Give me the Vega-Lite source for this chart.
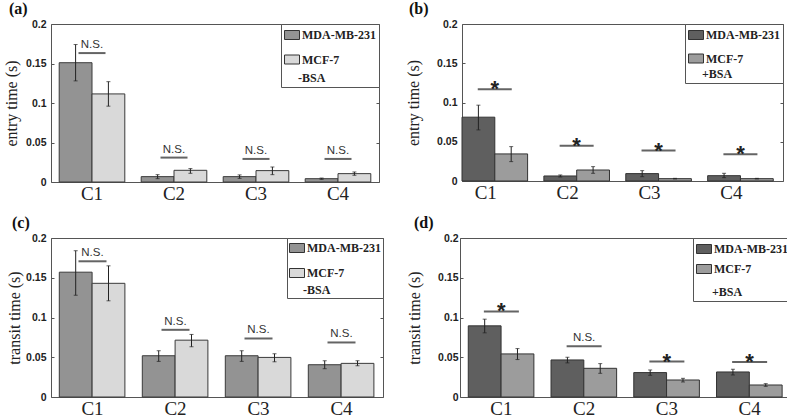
{
  "$schema": "https://vega.github.io/schema/vega-lite/v6.json",
  "padding": {"left": 2, "top": 0, "right": 0, "bottom": 0},
  "background": "white",
  "config": {
    "view": {"stroke": "#555", "strokeWidth": 1},
    "axis": {"grid": false, "domain": false},
    "axisY": {"labelFont": "Liberation Sans", "labelFontWeight": "bold", "labelFontSize": 10.5, "labelColor": "#222", "tickColor": "#555", "tickSize": -3, "labelPadding": 8, "titleFont": "Liberation Serif", "titleFontWeight": "normal", "titleFontSize": 16, "titleColor": "#222"},
    "axisX": {"labelFont": "Liberation Serif", "labelFontSize": 19, "labelColor": "#222", "ticks": false, "labelPadding": 2, "labelAngle": 0},
    "legend": {"orient": "top-right", "offset": 0, "strokeColor": "#555", "fillColor": "white", "padding": 3, "symbolType": "M-1,-0.6H1V0.6H-1Z", "symbolSize": 225, "symbolStrokeColor": "#333", "symbolStrokeWidth": 1, "symbolOpacity": 1, "labelFont": "Liberation Serif", "labelFontWeight": "bold", "labelFontSize": 12, "labelColor": "#222", "labelOffset": 2, "titleFont": "Liberation Serif", "titleFontWeight": "bold", "titleFontSize": 12, "titleColor": "#222", "titleOrient": "bottom", "titleAnchor": "start", "titlePadding": 7, "rowPadding": 9.5},
    "title": {"font": "Liberation Serif", "fontSize": 16, "fontWeight": "bold", "color": "#111", "anchor": "start", "frame": "bounds", "offset": 2}
  },
  "datasets": {
    "a": [
      {"cond": "C1", "cell": "MDA-MB-231", "mean": 0.151, "lo": 0.128, "hi": 0.174},
      {"cond": "C1", "cell": "MCF-7", "mean": 0.1115, "lo": 0.096, "hi": 0.127},
      {"cond": "C2", "cell": "MDA-MB-231", "mean": 0.0068, "lo": 0.0042, "hi": 0.0093},
      {"cond": "C2", "cell": "MCF-7", "mean": 0.0148, "lo": 0.011, "hi": 0.017},
      {"cond": "C3", "cell": "MDA-MB-231", "mean": 0.0068, "lo": 0.0046, "hi": 0.009},
      {"cond": "C3", "cell": "MCF-7", "mean": 0.0144, "lo": 0.0093, "hi": 0.019},
      {"cond": "C4", "cell": "MDA-MB-231", "mean": 0.0042, "lo": 0.0034, "hi": 0.005},
      {"cond": "C4", "cell": "MCF-7", "mean": 0.0106, "lo": 0.0085, "hi": 0.0127}
    ],
    "b": [
      {"cond": "C1", "cell": "MDA-MB-231", "mean": 0.0813, "lo": 0.0651, "hi": 0.0966},
      {"cond": "C1", "cell": "MCF-7", "mean": 0.0345, "lo": 0.0247, "hi": 0.0438},
      {"cond": "C2", "cell": "MDA-MB-231", "mean": 0.0064, "lo": 0.0051, "hi": 0.0077},
      {"cond": "C2", "cell": "MCF-7", "mean": 0.014, "lo": 0.0098, "hi": 0.0183},
      {"cond": "C3", "cell": "MDA-MB-231", "mean": 0.0094, "lo": 0.0055, "hi": 0.0132},
      {"cond": "C3", "cell": "MCF-7", "mean": 0.003, "lo": 0.0026, "hi": 0.0034},
      {"cond": "C4", "cell": "MDA-MB-231", "mean": 0.0068, "lo": 0.0043, "hi": 0.0098},
      {"cond": "C4", "cell": "MCF-7", "mean": 0.003, "lo": 0.0026, "hi": 0.0034}
    ],
    "c": [
      {"cond": "C1", "cell": "MDA-MB-231", "mean": 0.157, "lo": 0.128, "hi": 0.184},
      {"cond": "C1", "cell": "MCF-7", "mean": 0.143, "lo": 0.121, "hi": 0.165},
      {"cond": "C2", "cell": "MDA-MB-231", "mean": 0.0519, "lo": 0.0448, "hi": 0.0582},
      {"cond": "C2", "cell": "MCF-7", "mean": 0.0715, "lo": 0.0632, "hi": 0.0787},
      {"cond": "C3", "cell": "MDA-MB-231", "mean": 0.0519, "lo": 0.0448, "hi": 0.0582},
      {"cond": "C3", "cell": "MCF-7", "mean": 0.0498, "lo": 0.0443, "hi": 0.0544},
      {"cond": "C4", "cell": "MDA-MB-231", "mean": 0.0406, "lo": 0.0356, "hi": 0.0456},
      {"cond": "C4", "cell": "MCF-7", "mean": 0.0423, "lo": 0.0393, "hi": 0.0456}
    ],
    "d": [
      {"cond": "C1", "cell": "MDA-MB-231", "mean": 0.0895, "lo": 0.0807, "hi": 0.0979},
      {"cond": "C1", "cell": "MCF-7", "mean": 0.0542, "lo": 0.0471, "hi": 0.0609},
      {"cond": "C2", "cell": "MDA-MB-231", "mean": 0.0466, "lo": 0.0429, "hi": 0.05},
      {"cond": "C2", "cell": "MCF-7", "mean": 0.0361, "lo": 0.0298, "hi": 0.042},
      {"cond": "C3", "cell": "MDA-MB-231", "mean": 0.0307, "lo": 0.0273, "hi": 0.034},
      {"cond": "C3", "cell": "MCF-7", "mean": 0.0214, "lo": 0.0189, "hi": 0.0235},
      {"cond": "C4", "cell": "MDA-MB-231", "mean": 0.0315, "lo": 0.0277, "hi": 0.0349},
      {"cond": "C4", "cell": "MCF-7", "mean": 0.0151, "lo": 0.0134, "hi": 0.0168}
    ],
    "sa": [
      {"cond": "C1", "y": 0.1632, "label": "N.S."},
      {"cond": "C2", "y": 0.0309, "label": "N.S."},
      {"cond": "C3", "y": 0.0292, "label": "N.S."},
      {"cond": "C4", "y": 0.0292, "label": "N.S."}
    ],
    "sb": [
      {"cond": "C1", "y": 0.117, "label": "*"},
      {"cond": "C2", "y": 0.045, "label": "*"},
      {"cond": "C3", "y": 0.0387, "label": "*"},
      {"cond": "C4", "y": 0.034, "label": "*"}
    ],
    "sc": [
      {"cond": "C1", "y": 0.1707, "label": "N.S."},
      {"cond": "C2", "y": 0.0845, "label": "N.S."},
      {"cond": "C3", "y": 0.0736, "label": "N.S."},
      {"cond": "C4", "y": 0.0686, "label": "N.S."}
    ],
    "sd": [
      {"cond": "C1", "y": 0.1076, "label": "*"},
      {"cond": "C2", "y": 0.0639, "label": "N.S."},
      {"cond": "C3", "y": 0.0445, "label": "*"},
      {"cond": "C4", "y": 0.0441, "label": "*"}
    ]
  },
  "resolve": {"scale": {"color": "independent"}, "legend": {"color": "independent"}},
  "spacing": 10,
  "vconcat": [
    {
      "spacing": 24,
      "resolve": {"scale": {"color": "independent"}, "legend": {"color": "independent"}},
      "hconcat": [
        {
          "width": 328, "height": 158,
          "title": {"text": "(a)", "dx": 6},
          "data": {"name": "a"},
          "resolve": {"axis": {"y": "independent"}},
          "layer": [
            {"mark": {"type": "bar", "stroke": "#3a3a3a", "strokeWidth": 1},
             "encoding": {
               "x": {"field": "cond", "type": "nominal", "title": null, "scale": {"paddingInner": 0.2, "paddingOuter": 0.1}, "axis": {"labelAngle": 0}},
               "xOffset": {"field": "cell", "sort": ["MDA-MB-231", "MCF-7"]},
               "y": {"field": "mean", "type": "quantitative", "title": "entry time (s)", "scale": {"domain": [0, 0.2], "nice": false}, "axis": {"values": [0, 0.05, 0.1, 0.15, 0.2], "format": "~g", "minExtent": 25, "maxExtent": 25, "titlePadding": 7}},
               "color": {"field": "cell", "type": "nominal", "scale": {"domain": ["MDA-MB-231", "MCF-7"], "range": ["#939393", "#d9d9d9"]}, "legend": {"title": "-BSA", "encode": {"title": {"update": {"dx": {"value": 14}}}}}}
             }},
            {"mark": {"type": "rule", "color": "#222", "strokeWidth": 1},
             "encoding": {"x": {"field": "cond", "type": "nominal", "title": null}, "xOffset": {"field": "cell", "sort": ["MDA-MB-231", "MCF-7"]}, "y": {"field": "lo", "type": "quantitative", "axis": null}, "y2": {"field": "hi"}}},
            {"mark": {"type": "tick", "color": "#222", "size": 4, "thickness": 1},
             "encoding": {"x": {"field": "cond", "type": "nominal", "title": null}, "xOffset": {"field": "cell", "sort": ["MDA-MB-231", "MCF-7"]}, "y": {"field": "hi", "type": "quantitative", "axis": {"orient": "right", "labels": false, "title": null, "values": [0, 0.05, 0.1, 0.15, 0.2], "minExtent": 0, "maxExtent": 0}}}},
            {"mark": {"type": "tick", "color": "#222", "size": 4, "thickness": 1},
             "encoding": {"x": {"field": "cond", "type": "nominal", "title": null}, "xOffset": {"field": "cell", "sort": ["MDA-MB-231", "MCF-7"]}, "y": {"field": "lo", "type": "quantitative", "axis": null}}},
            {"data": {"name": "sa"}, "mark": {"type": "tick", "color": "#222", "size": 27, "thickness": 2},
             "encoding": {"x": {"field": "cond", "type": "nominal", "title": null}, "y": {"field": "y", "type": "quantitative", "axis": null}}},
            {"data": {"name": "sa"}, "mark": {"type": "text", "font": "Liberation Sans", "fontSize": 11.5, "color": "#333", "baseline": "alphabetic", "dy": -5},
             "encoding": {"x": {"field": "cond", "type": "nominal", "title": null}, "y": {"field": "y", "type": "quantitative", "axis": null}, "text": {"field": "label"}}}
          ]
        },
        {
          "width": 321, "height": 157,
          "title": {"text": "(b)", "dx": 4},
          "data": {"name": "b"},
          "resolve": {"axis": {"y": "independent"}},
          "layer": [
            {"mark": {"type": "bar", "stroke": "#333", "strokeWidth": 1},
             "encoding": {
               "x": {"field": "cond", "type": "nominal", "title": null, "scale": {"paddingInner": 0.2, "paddingOuter": 0.06, "align": 0}, "axis": {"labelAngle": 0, "labelOffset": -9}},
               "xOffset": {"field": "cell", "sort": ["MDA-MB-231", "MCF-7"]},
               "y": {"field": "mean", "type": "quantitative", "title": "entry time (s)", "scale": {"domain": [0, 0.2], "nice": false}, "axis": {"values": [0, 0.05, 0.1, 0.15, 0.2], "format": "~g", "minExtent": 27, "maxExtent": 27, "titlePadding": 14}},
               "color": {"field": "cell", "type": "nominal", "scale": {"domain": ["MDA-MB-231", "MCF-7"], "range": ["#5f5f5f", "#9c9c9c"]}, "legend": {"title": "+BSA", "rowPadding": 8.5, "titlePadding": 4, "encode": {"title": {"update": {"dx": {"value": 14}}}}}}
             }},
            {"mark": {"type": "rule", "color": "#222", "strokeWidth": 1},
             "encoding": {"x": {"field": "cond", "type": "nominal", "title": null}, "xOffset": {"field": "cell", "sort": ["MDA-MB-231", "MCF-7"]}, "y": {"field": "lo", "type": "quantitative", "axis": null}, "y2": {"field": "hi"}}},
            {"mark": {"type": "tick", "color": "#222", "size": 4, "thickness": 1},
             "encoding": {"x": {"field": "cond", "type": "nominal", "title": null}, "xOffset": {"field": "cell", "sort": ["MDA-MB-231", "MCF-7"]}, "y": {"field": "hi", "type": "quantitative", "axis": {"orient": "right", "labels": false, "title": null, "values": [0, 0.05, 0.1, 0.15, 0.2], "minExtent": 0, "maxExtent": 0}}}},
            {"mark": {"type": "tick", "color": "#222", "size": 4, "thickness": 1},
             "encoding": {"x": {"field": "cond", "type": "nominal", "title": null}, "xOffset": {"field": "cell", "sort": ["MDA-MB-231", "MCF-7"]}, "y": {"field": "lo", "type": "quantitative", "axis": null}}},
            {"data": {"name": "sb"}, "mark": {"type": "tick", "color": "#222", "size": 34, "thickness": 2},
             "encoding": {"x": {"field": "cond", "type": "nominal", "title": null}, "y": {"field": "y", "type": "quantitative", "axis": null}}},
            {"data": {"name": "sb"}, "mark": {"type": "text", "font": "Liberation Sans", "fontWeight": "bold", "fontSize": 22, "color": "#222", "baseline": "alphabetic", "dy": 7},
             "encoding": {"x": {"field": "cond", "type": "nominal", "title": null}, "y": {"field": "y", "type": "quantitative", "axis": null}, "text": {"field": "label"}}}
          ]
        }
      ]
    },
    {
      "spacing": 21,
      "resolve": {"scale": {"color": "independent"}, "legend": {"color": "independent"}},
      "hconcat": [
        {
          "width": 332, "height": 159,
          "title": {"text": "(c)", "dx": 6},
          "data": {"name": "c"},
          "resolve": {"axis": {"y": "independent"}},
          "layer": [
            {"mark": {"type": "bar", "stroke": "#3a3a3a", "strokeWidth": 1},
             "encoding": {
               "x": {"field": "cond", "type": "nominal", "title": null, "scale": {"paddingInner": 0.2, "paddingOuter": 0.1}, "axis": {"labelAngle": 0}},
               "xOffset": {"field": "cell", "sort": ["MDA-MB-231", "MCF-7"]},
               "y": {"field": "mean", "type": "quantitative", "title": "transit time (s)", "scale": {"domain": [0, 0.2], "nice": false}, "axis": {"values": [0, 0.05, 0.1, 0.15, 0.2], "format": "~g", "minExtent": 24, "maxExtent": 24, "titlePadding": 5}},
               "color": {"field": "cell", "type": "nominal", "scale": {"domain": ["MDA-MB-231", "MCF-7"], "range": ["#939393", "#d9d9d9"]}, "legend": {"title": "-BSA", "padding": 2, "rowPadding": 10, "titlePadding": 5, "encode": {"title": {"update": {"dx": {"value": 14}}}}}}
             }},
            {"mark": {"type": "rule", "color": "#222", "strokeWidth": 1},
             "encoding": {"x": {"field": "cond", "type": "nominal", "title": null}, "xOffset": {"field": "cell", "sort": ["MDA-MB-231", "MCF-7"]}, "y": {"field": "lo", "type": "quantitative", "axis": null}, "y2": {"field": "hi"}}},
            {"mark": {"type": "tick", "color": "#222", "size": 4, "thickness": 1},
             "encoding": {"x": {"field": "cond", "type": "nominal", "title": null}, "xOffset": {"field": "cell", "sort": ["MDA-MB-231", "MCF-7"]}, "y": {"field": "hi", "type": "quantitative", "axis": {"orient": "right", "labels": false, "title": null, "values": [0, 0.05, 0.1, 0.15, 0.2], "minExtent": 0, "maxExtent": 0}}}},
            {"mark": {"type": "tick", "color": "#222", "size": 4, "thickness": 1},
             "encoding": {"x": {"field": "cond", "type": "nominal", "title": null}, "xOffset": {"field": "cell", "sort": ["MDA-MB-231", "MCF-7"]}, "y": {"field": "lo", "type": "quantitative", "axis": null}}},
            {"data": {"name": "sc"}, "mark": {"type": "tick", "color": "#222", "size": 28, "thickness": 2},
             "encoding": {"x": {"field": "cond", "type": "nominal", "title": null}, "y": {"field": "y", "type": "quantitative", "axis": null}}},
            {"data": {"name": "sc"}, "mark": {"type": "text", "font": "Liberation Sans", "fontSize": 11.5, "color": "#333", "baseline": "alphabetic", "dy": -5},
             "encoding": {"x": {"field": "cond", "type": "nominal", "title": null}, "y": {"field": "y", "type": "quantitative", "axis": null}, "text": {"field": "label"}}}
          ]
        },
        {
          "width": 331, "height": 159,
          "title": {"text": "(d)", "dx": 8},
          "data": {"name": "d"},
          "resolve": {"axis": {"y": "independent"}},
          "layer": [
            {"mark": {"type": "bar", "stroke": "#333", "strokeWidth": 1},
             "encoding": {
               "x": {"field": "cond", "type": "nominal", "title": null, "scale": {"paddingInner": 0.2, "paddingOuter": 0.1}, "axis": {"labelAngle": 0}},
               "xOffset": {"field": "cell", "sort": ["MDA-MB-231", "MCF-7"]},
               "y": {"field": "mean", "type": "quantitative", "title": "transit time (s)", "scale": {"domain": [0, 0.2], "nice": false}, "axis": {"values": [0, 0.05, 0.1, 0.15, 0.2], "format": "~g", "minExtent": 22, "maxExtent": 22, "titlePadding": 16, "labelPadding": 5}},
               "color": {"field": "cell", "type": "nominal", "scale": {"domain": ["MDA-MB-231", "MCF-7"], "range": ["#5f5f5f", "#9c9c9c"]}, "legend": {"title": "+BSA", "rowPadding": 5, "titlePadding": 11, "encode": {"title": {"update": {"dx": {"value": 16}}}}}}
             }},
            {"mark": {"type": "rule", "color": "#222", "strokeWidth": 1},
             "encoding": {"x": {"field": "cond", "type": "nominal", "title": null}, "xOffset": {"field": "cell", "sort": ["MDA-MB-231", "MCF-7"]}, "y": {"field": "lo", "type": "quantitative", "axis": null}, "y2": {"field": "hi"}}},
            {"mark": {"type": "tick", "color": "#222", "size": 4, "thickness": 1},
             "encoding": {"x": {"field": "cond", "type": "nominal", "title": null}, "xOffset": {"field": "cell", "sort": ["MDA-MB-231", "MCF-7"]}, "y": {"field": "hi", "type": "quantitative", "axis": {"orient": "right", "labels": false, "title": null, "values": [0, 0.05, 0.1, 0.15, 0.2], "minExtent": 0, "maxExtent": 0}}}},
            {"mark": {"type": "tick", "color": "#222", "size": 4, "thickness": 1},
             "encoding": {"x": {"field": "cond", "type": "nominal", "title": null}, "xOffset": {"field": "cell", "sort": ["MDA-MB-231", "MCF-7"]}, "y": {"field": "lo", "type": "quantitative", "axis": null}}},
            {"data": {"name": "sd"}, "mark": {"type": "tick", "color": "#222", "size": 35, "thickness": 2},
             "encoding": {"x": {"field": "cond", "type": "nominal", "title": null}, "y": {"field": "y", "type": "quantitative", "axis": null}}},
            {"data": {"name": "sd"}, "transform": [{"filter": "datum.label === '*'"}], "mark": {"type": "text", "font": "Liberation Sans", "fontWeight": "bold", "fontSize": 22, "color": "#222", "baseline": "alphabetic", "dy": 7},
             "encoding": {"x": {"field": "cond", "type": "nominal", "title": null}, "y": {"field": "y", "type": "quantitative", "axis": null}, "text": {"field": "label"}}},
            {"data": {"name": "sd"}, "transform": [{"filter": "datum.label !== '*'"}], "mark": {"type": "text", "font": "Liberation Sans", "fontSize": 11.5, "color": "#333", "baseline": "alphabetic", "dy": -5},
             "encoding": {"x": {"field": "cond", "type": "nominal", "title": null}, "y": {"field": "y", "type": "quantitative", "axis": null}, "text": {"field": "label"}}}
          ]
        }
      ]
    }
  ]
}
